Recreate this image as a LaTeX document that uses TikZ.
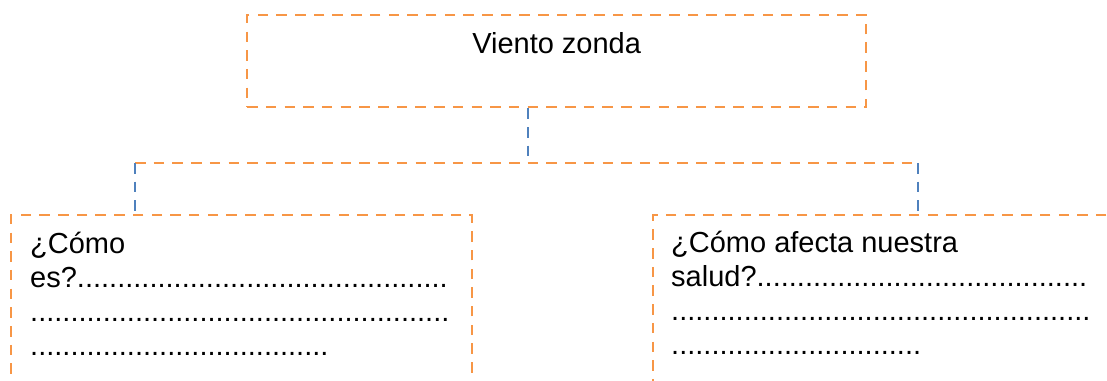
\documentclass[tikz,border=0pt]{standalone}
\usepackage{fontspec}
\setmainfont{Liberation Sans}
\usetikzlibrary{positioning}

\definecolor{naranja}{RGB}{247,150,70}
\definecolor{azul}{RGB}{79,129,189}

\tikzset{
  guion/.style={line width=2.3pt, dash pattern=on 10.5pt off 8.2pt},
  caja/.style={guion, draw=naranja, anchor=north west, inner sep=0pt},
  raya/.style={guion, draw=naranja},
  enlace/.style={guion, draw=azul},
  texto/.style={font=\fontsize{29}{34}\selectfont, align=left, inner sep=0pt}
}

\begin{document}
\begin{tikzpicture}[x=1pt, y=-1pt]
  \useasboundingbox (0,0) rectangle (1107,380);
  \clip (0,0) rectangle (1107,380);

  % Cajas
  \node[caja, minimum width=619, minimum height=92] (zonda) at (246,14) {};
  \node[caja, minimum width=461, minimum height=220] (izq) at (10,214) {};
  \node[caja, minimum width=500, minimum height=220] (der) at (652,214) {};

  % Textos (base = ultima linea)
  \node[texto, anchor=base] (titulo) at ([yshift=-39]zonda.north) {Viento zonda};
  \node[texto, anchor=base west] (como) at ([xshift=20,yshift=-141]izq.north west)
    {¿Cómo\\
     es?{..........}{..........}{..........}{..........}{......}\\
     {..........}{..........}{..........}{..........}{..........}{..}\\
     {..........}{..........}{..........}{.......}};
  \node[texto, anchor=base west] (salud) at ([xshift=19,yshift=-140]der.north west)
    {¿Cómo afecta nuestra\\
     salud?{..........}{..........}{..........}{..........}{.}\\
     {..........}{..........}{..........}{..........}{..........}{..}\\
     {..........}{..........}{..........}{.}};

  % Conectores
  \coordinate (bajada) at ([xshift=-28.5]zonda.south);
  \coordinate (ramaI) at (135,163);
  \coordinate (ramaD) at (918,163);
  \draw[enlace] (bajada) -- (bajada |- ramaI);
  \draw[raya] (ramaI) -- (ramaD);
  \draw[enlace] (ramaI) -- (ramaI |- izq.north);
  \draw[enlace] (ramaD) -- (ramaD |- der.north);

\end{tikzpicture}
\end{document}
